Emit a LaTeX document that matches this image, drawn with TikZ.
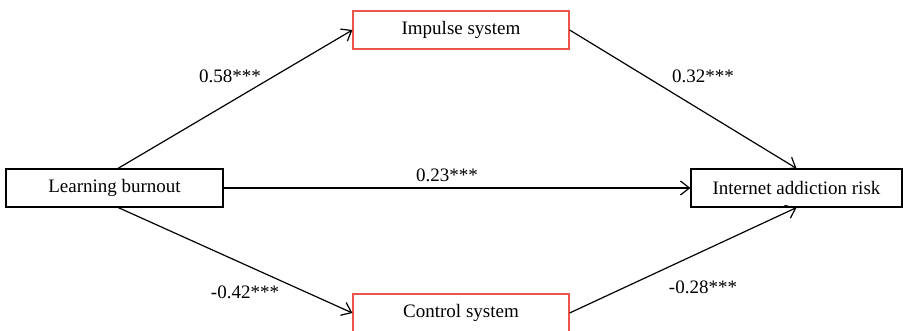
\documentclass[tikz,border=0pt]{standalone}
\usepackage{fontspec}
\setmainfont{Liberation Serif}
\usetikzlibrary{arrows.meta}
\definecolor{boxred}{RGB}{235,85,75}
\begin{document}
\begin{tikzpicture}[x=1pt,y=-1pt,
  blackbox/.style={draw=black,line width=1.2pt,minimum height=38pt,inner sep=0pt,font=\fontsize{19}{21}\selectfont},
  redbox/.style={draw=boxred,line width=1.2pt,minimum height=38pt,inner sep=0pt,font=\fontsize{19}{21}\selectfont},
  conn/.style={line width=1.2pt,-{Straight Barb[length=9pt,width=14pt]}},
  lab/.style={font=\fontsize{19}{21}\selectfont,inner sep=0pt}]
\useasboundingbox (0,0) rectangle (903,331);
\node[blackbox,minimum width=217pt] (lb) at (114.5,188) {Learning burnout};
\node[redbox,minimum width=216pt] (imp) at (461,30) {Impulse system};
\node[redbox,minimum width=216pt] (ctl) at (461,313) {Control system};
\node[blackbox,minimum width=211pt] (iar) at (796.5,188) {Internet addiction risk};
\coordinate (lbt) at (117,169);
\coordinate (lbb) at (117,207);
\draw[conn] (lbt) -- (imp.west);
\draw[conn] (lbb) -- (ctl.west);
\draw[conn] (lb.east) -- (iar.west);
\draw[conn] (imp.east) -- (iar.north);
\draw[conn] (ctl.east) -- (iar.south);
\node[lab] (l1) at (230,76) {0.58***};
\node[lab] (l2) at (447,175) {0.23***};
\node[lab] (l3) at (245,292) {-0.42***};
\node[lab] (l4) at (703,76) {0.32***};
\node[lab] (l5) at (703,287) {-0.28***};
\end{tikzpicture}
\end{document}
